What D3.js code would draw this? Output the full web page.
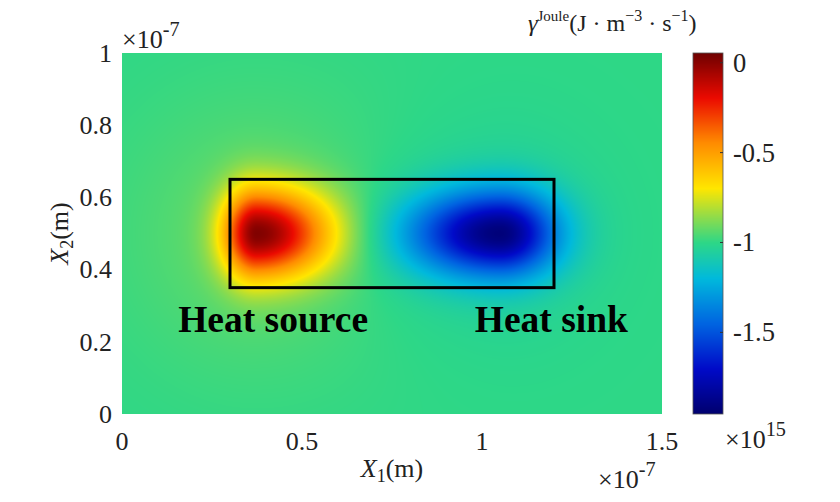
<!DOCTYPE html>
<html><head><meta charset="utf-8">
<script src="https://cdn.jsdelivr.net/npm/d3@7"></script>
<style>
html,body{margin:0;padding:0;background:#fff;}
svg{display:block;font-family:"Liberation Serif","DejaVu Serif",serif;}
</style></head>
<body>
<svg id="chart" width="840" height="502"></svg>
<script>
// ---- data (x, y in units of 1e-7 m; values in units of 1e15 J m^-3 s^-1) ----
const xTicks = [0, 0.5, 1, 1.5];
const xTickLabels = ["0", "0.5", "1", "1.5"];
const yTicks = [0, 0.2, 0.4, 0.6, 0.8, 1];
const yTickLabels = ["0", "0.2", "0.4", "0.6", "0.8", "1"];
const cbTicks = [0, -0.5, -1, -1.5];
const cbTickLabels = ["0", "-0.5", "-1", "-1.5"];
const cbDomain = [-1.954, 0.054];
const baseValue = -1;
// field components (source core, source halo, sink core, sink halo)
const compCx  = [0.375, 0.39, 1.05, 1.02];
const compCy  = [0.50, 0.50, 0.50, 0.50];
const compAmp = [0.94, 0.09, -0.86, -0.07];
const compSxL = [0.066, 0.25, 0.175, 0.35];
const compSxR = [0.145, 0.30, 0.11, 0.20];
const compSy  = [0.088, 0.25, 0.083, 0.20];
const boxX = [0.3, 1.2];
const boxY = [0.35, 0.65];
const regionLabels = ["Heat source", "Heat sink"];
const regionLabelX = [0.156, 0.98];
const regionLabelY = [0.227, 0.227];
// colormap (jet-like, as in the figure)
const cmapT = [0, 0.125, 0.25, 0.375, 0.474, 0.55, 0.625, 0.75, 0.875, 1];
const cmapC = ["#00006e", "#000ac8", "#0064e1", "#00b9dc", "#2dd787", "#96dc46", "#ffe600", "#ff8c00", "#eb0a00", "#6e0000"];

// ---- layout ----
const svg = d3.select("#chart");
const plot = {x0: 122, x1: 662, y0: 53, y1: 414};
const cb = {x0: 693, x1: 723, y0: 53, y1: 414};

const x = d3.scaleLinear().domain([0, 1.5]).range([plot.x0, plot.x1]);
const y = d3.scaleLinear().domain([0, 1]).range([plot.y1, plot.y0]);
const cbY = d3.scaleLinear().domain(cbDomain).range([cb.y1, cb.y0]);
const color = d3.scaleLinear()
  .domain(cmapT.map(t => cbDomain[0] + t * (cbDomain[1] - cbDomain[0])))
  .range(cmapC).interpolate(d3.interpolateRgb).clamp(true);

function field(px, py) {
  let v = baseValue;
  for (let i = 0; i < compCx.length; i++) {
    const dx = px - compCx[i], dy = py - compCy[i];
    const sx = dx < 0 ? compSxL[i] : compSxR[i];
    v += compAmp[i] * Math.exp(-0.5 * (dx * dx / (sx * sx) + dy * dy / (compSy[i] * compSy[i])));
  }
  return v;
}

// heatmap raster
const W = plot.x1 - plot.x0, H = plot.y1 - plot.y0;
const canvas = document.createElement("canvas");
canvas.width = W; canvas.height = H;
const ctx = canvas.getContext("2d");
const img = ctx.createImageData(W, H);
for (let j = 0; j < H; j++) {
  const py = y.invert(plot.y0 + j + 0.5);
  for (let i = 0; i < W; i++) {
    const px = x.invert(plot.x0 + i + 0.5);
    const c = d3.rgb(color(field(px, py)));
    const k = (j * W + i) * 4;
    img.data[k] = c.r; img.data[k + 1] = c.g; img.data[k + 2] = c.b; img.data[k + 3] = 255;
  }
}
ctx.putImageData(img, 0, 0);
svg.append("image").attr("x", plot.x0).attr("y", plot.y0).attr("width", W).attr("height", H)
  .attr("href", canvas.toDataURL());

// colorbar raster
const CH = cb.y1 - cb.y0;
const cbc = document.createElement("canvas");
cbc.width = 1; cbc.height = CH;
const cctx = cbc.getContext("2d");
for (let j = 0; j < CH; j++) {
  cctx.fillStyle = color(cbY.invert(cb.y0 + j + 0.5));
  cctx.fillRect(0, j, 1, 1);
}
svg.append("image").attr("x", cb.x0).attr("y", cb.y0).attr("width", cb.x1 - cb.x0).attr("height", CH)
  .attr("preserveAspectRatio", "none").attr("href", cbc.toDataURL());
svg.append("rect").attr("x", cb.x0).attr("y", cb.y0).attr("width", cb.x1 - cb.x0).attr("height", CH)
  .attr("fill", "none").attr("stroke", "#555").attr("stroke-width", 0.8);
svg.append("g").selectAll("line").data(cbTicks).join("line")
  .attr("x1", cb.x1 - 3).attr("x2", cb.x1).attr("y1", d => cbY(d)).attr("y2", d => cbY(d))
  .attr("stroke", "#333").attr("stroke-width", 1);
svg.append("g").selectAll("text").data(cbTicks).join("text")
  .attr("x", cb.x1 + 10).attr("y", d => cbY(d)).attr("dy", "0.34em")
  .attr("font-size", 26.5).attr("fill", "#222")
  .text((d, i) => cbTickLabels[i]);

// box
svg.append("rect")
  .attr("x", x(boxX[0])).attr("y", y(boxY[1]))
  .attr("width", x(boxX[1]) - x(boxX[0])).attr("height", y(boxY[0]) - y(boxY[1]))
  .attr("fill", "none").attr("stroke", "#000").attr("stroke-width", 3);

// region labels
svg.append("g").selectAll("text").data(regionLabels).join("text")
  .attr("x", (d, i) => x(regionLabelX[i])).attr("y", (d, i) => y(regionLabelY[i]))
  .attr("font-size", 37.5).attr("font-weight", "bold").attr("fill", "#000")
  .text(d => d);

// axes tick labels
svg.append("g").selectAll("text").data(xTicks).join("text")
  .attr("x", d => x(d)).attr("y", 450).attr("text-anchor", "middle")
  .attr("font-size", 26).attr("fill", "#222").text((d, i) => xTickLabels[i]);
svg.append("g").selectAll("text").data(yTicks).join("text")
  .attr("x", 112).attr("y", d => y(d)).attr("dy", "0.34em").attr("text-anchor", "end")
  .attr("font-size", 26).attr("fill", "#222").text((d, i) => yTickLabels[i]);

// exponents
function expo(xp, yp, base, sup, fs) {
  const t = svg.append("text").attr("x", xp).attr("y", yp).attr("font-size", fs).attr("fill", "#222");
  t.append("tspan").text(base);
  t.append("tspan").attr("dy", -fs * 0.45).attr("font-size", fs * 0.78).text(sup);
  return t;
}
expo(122, 48, "×10", "-7", 26);
expo(598, 488, "×10", "-7", 26);
expo(725, 448, "×10", "15", 26);

// axis labels
const xl = svg.append("text").attr("x", x(0.75)).attr("y", 477).attr("text-anchor", "middle")
  .attr("font-size", 26).attr("fill", "#222");
xl.append("tspan").attr("font-style", "italic").text("X");
xl.append("tspan").attr("font-size", 18).attr("dy", 5).text("1");
xl.append("tspan").attr("dy", -5).text("(m)");

const yl = svg.append("text").attr("transform", `translate(68,${y(0.5)}) rotate(-90)`)
  .attr("text-anchor", "middle").attr("font-size", 26).attr("fill", "#222");
yl.append("tspan").attr("font-style", "italic").text("X");
yl.append("tspan").attr("font-size", 18).attr("dy", 5).text("2");
yl.append("tspan").attr("dy", -5).text("(m)");

// colorbar title
const ct = svg.append("text").attr("x", 528).attr("y", 31).attr("font-size", 24).attr("fill", "#222");
ct.append("tspan").attr("font-style", "italic").text("γ");
ct.append("tspan").attr("font-size", 15).attr("dy", -10).text("Joule");
ct.append("tspan").attr("dy", 10).text("(J · m");
ct.append("tspan").attr("font-size", 16).attr("dy", -10).text("−3");
ct.append("tspan").attr("dy", 10).text(" · s");
ct.append("tspan").attr("font-size", 16).attr("dy", -10).text("−1");
ct.append("tspan").attr("dy", 10).text(")");
</script>
</body></html>
